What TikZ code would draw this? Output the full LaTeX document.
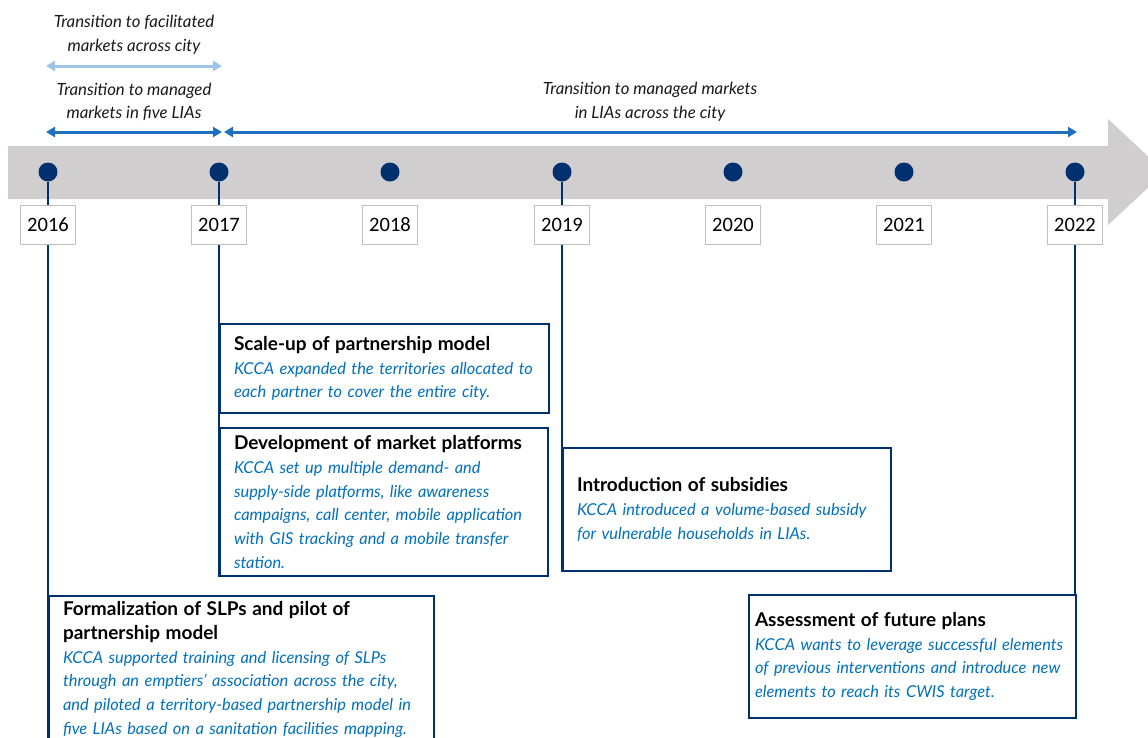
\documentclass[tikz,border=0pt]{standalone}
\usepackage{fontspec}
\setmainfont{Lato}
\newfontfamily\yearfont{Carlito}
\usetikzlibrary{arrows.meta,positioning,calc}
\pgfdeclarelayer{bg}
\pgfsetlayers{bg,main}
\hyphenpenalty=10000
\definecolor{tl_navy}{HTML}{00306E}
\definecolor{tl_blue}{HTML}{0070C0}
\definecolor{tl_arrow}{HTML}{1F6FBF}
\definecolor{tl_light}{HTML}{9DC3E6}
\definecolor{tl_band}{HTML}{D0CECE}
\tikzset{
  tl_dot/.style = {circle, fill=tl_navy, inner sep=0pt, minimum size=19pt},
  tl_year/.style = {draw=black!25, fill=white, line width=0.8pt, inner sep=0pt,
    minimum width=55pt, minimum height=39pt, font=\yearfont\fontsize{20.5}{24}\selectfont},
  tl_stem/.style = {draw=tl_navy, line width=2.5pt},
  tl_span/.style = {line width=3pt, {Triangle[length=9pt,width=10pt]}-{Triangle[length=9pt,width=10pt]}},
  tl_note/.style = {align=center, inner sep=0pt, font=\fontsize{16.8}{23.7}\selectfont\itshape, text=black!90},
  ev_box/.style = {draw=tl_navy, line width=2pt, fill=white, anchor=north west, align=left,
    inner xsep=14pt, inner ysep=0pt, font=\fontsize{16.4}{23.7}\selectfont}
}
\newcommand{\evhead}[1]{{\fontsize{19}{23.7}\selectfont\bfseries #1}}
\newcommand{\evbody}[1]{\textcolor{tl_blue}{\itshape #1}}

\begin{document}
\begin{tikzpicture}[x=1pt, y=-1pt]
	\clip (0,0) rectangle (1148,737);

	% dots on the band
	\node [tl_dot] (d16) at (48,172) {};
	\node [tl_dot] (d17) at (219,172) {};
	\node [tl_dot] (d18) at (390,172) {};
	\node [tl_dot] (d19) at (562,172) {};
	\node [tl_dot] (d20) at (733,172) {};
	\node [tl_dot] (d21) at (904,172) {};
	\node [tl_dot] (d22) at (1075,172) {};

	% years
	\node [tl_year] (y16) at (48,225) {2016};
	\node [tl_year] (y17) at (219,225) {2017};
	\node [tl_year] (y18) at (390,225) {2018};
	\node [tl_year] (y19) at (562,225) {2019};
	\node [tl_year] (y20) at (733,225) {2020};
	\node [tl_year] (y21) at (904,225) {2021};
	\node [tl_year] (y22) at (1075,225) {2022};

	% phases above the band
	\node [tl_note] (n_fac) at (134,35) {Transition to facilitated\\markets across city};
	\node [tl_note] (n_five) at (134,102) {Transition to managed\\markets in five LIAs};
	\node [tl_note] (n_city) at (650,102) {Transition to managed markets\\in LIAs across the city};
	\coordinate (fac_l) at (46,66);
	\coordinate (fac_r) at (222,66);
	\coordinate (five_l) at (46,132);
	\coordinate (five_r) at (222,132);
	\coordinate (city_l) at (224,132);
	\coordinate (city_r) at (1077,132);
	\draw [tl_span, tl_light] (fac_l) -- (fac_r);
	\draw [tl_span, tl_arrow] (five_l) -- (five_r);
	\draw [tl_span, tl_arrow] (city_l) -- (city_r);

	% events
	\node [ev_box, text width=301pt, minimum height=89pt] (b_scale) at (219,323)
		{\evhead{Scale-up of partnership model}\\
		 \evbody{KCCA expanded the territories allocated to\\
		 each partner to cover the entire city.}};
	\node [ev_box, text width=300pt, minimum height=148pt,
		below right=13pt and 0pt of b_scale.south west] (b_dev)
		{\evhead{Development of market platforms}\\
		 \evbody{KCCA set up multiple demand- and\\
		 supply-side platforms, like awareness\\
		 campaigns, call center, mobile application\\
		 with GIS tracking and a mobile transfer\\
		 station.}};
	\node [ev_box, text width=300pt, minimum height=123pt] (b_sub) at (562,447)
		{\evhead{Introduction of subsidies}\\
		 \evbody{KCCA introduced a volume-based subsidy\\
		 for vulnerable households in LIAs.}};
	\node [ev_box, text width=357pt, minimum height=147pt] (b_form) at (48,595)
		{\evhead{Formalization of SLPs and pilot of\\
		 partnership model}\\
		 \evbody{KCCA supported training and licensing of SLPs\\
		 through an emptiers' association across the city,\\
		 and piloted a territory-based partnership model in\\
		 five LIAs based on a sanitation facilities mapping.}};
	\node [ev_box, inner xsep=6pt, text width=315pt, minimum height=123pt] (b_plan) at (748,594)
		{\evhead{Assessment of future plans}\\
		 \evbody{KCCA wants to leverage successful elements\\
		 of previous interventions and introduce new\\
		 elements to reach its CWIS target.}};

	\begin{pgfonlayer}{bg}
		% grey band ending in an arrow head
		\fill [tl_band] (8,146) -- (1108,146) -- (1108,119) -- (1165,172)
			-- (1108,225) -- (1108,199) -- (8,199) -- cycle;
		% stems from the dots
		\draw [tl_stem] (d16) -- (d16 |- b_form.south);
		\draw [tl_stem] (d17) -- (d17 |- b_dev.south);
		\draw [tl_stem] (d19) -- (d19 |- b_sub.south);
		\draw [tl_stem] (d22) -- (d22 |- b_plan.south);
	\end{pgfonlayer}
\end{tikzpicture}
\end{document}
